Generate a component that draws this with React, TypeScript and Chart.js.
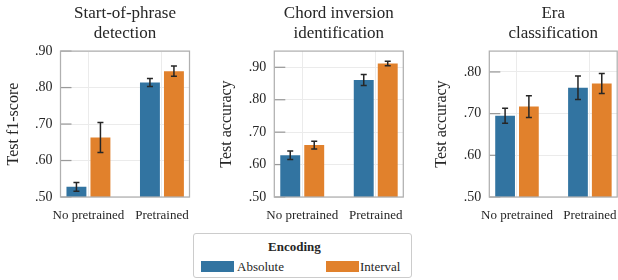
import React, { useEffect, useRef } from 'react';
import { Chart, registerables } from 'chart.js';

Chart.register(...registerables);

const FONT = "'Liberation Serif', 'Times New Roman', serif";
const TEXT = '#262626';

const groups = ['No pretrained', 'Pretrained'];
const encodings = ['Absolute', 'Interval'];
const encodingColors = ['#3274A1', '#E1812C'];

const phraseTitle = ['Start-of-phrase', 'detection'];
const phraseYLabel = 'Test f1-score';
const phraseAbsolute = [0.528, 0.814];
const phraseInterval = [0.663, 0.845];
const phraseAbsoluteErr = [0.012, 0.011];
const phraseIntervalErr = [0.041, 0.014];
const phraseTicks = [0.5, 0.6, 0.7, 0.8, 0.9];
const phraseRange = [0.5, 0.9];

const inversionTitle = ['Chord inversion', 'identification'];
const inversionYLabel = 'Test accuracy';
const inversionAbsolute = [0.629, 0.861];
const inversionInterval = [0.66, 0.912];
const inversionAbsoluteErr = [0.013, 0.017];
const inversionIntervalErr = [0.012, 0.007];
const inversionTicks = [0.5, 0.6, 0.7, 0.8, 0.9];
const inversionRange = [0.5, 0.95];

const eraTitle = ['Era', 'classification'];
const eraYLabel = 'Test accuracy';
const eraAbsolute = [0.695, 0.762];
const eraInterval = [0.717, 0.772];
const eraAbsoluteErr = [0.018, 0.028];
const eraIntervalErr = [0.026, 0.024];
const eraTicks = [0.5, 0.6, 0.7, 0.8];
const eraRange = [0.5, 0.85];

const xRange = [-0.38, 1.375];

type PanelProps = {
  title: string[];
  yLabel: string;
  absolute: number[];
  interval: number[];
  absoluteErr: number[];
  intervalErr: number[];
  ticks: number[];
  range: number[];
  left: number;
  width: number;
  yAxisWidth: number;
  yTitlePad: number;
  padRight: number;
};

function Panel(p: PanelProps) {
  const ref = useRef<HTMLCanvasElement>(null);
  useEffect(() => {
    const errs = [p.absoluteErr, p.intervalErr];
    const decor = {
      id: 'decor',
      beforeDatasetsDraw(chart: any) {
        const { ctx, chartArea: a, scales } = chart;
        const y = scales.y;
        ctx.save();
        ctx.strokeStyle = '#9a9a9a';
        ctx.lineWidth = 1.25;
        for (const t of y.ticks) {
          const py = y.getPixelForValue(t.value);
          ctx.beginPath();
          ctx.moveTo(a.left, py);
          ctx.lineTo(a.left + 11, py);
          ctx.stroke();
        }
        ctx.restore();
      },
      afterDatasetsDraw(chart: any) {
        const { ctx, chartArea: a, scales } = chart;
        ctx.save();
        ctx.strokeStyle = '#b0b0b0';
        ctx.lineWidth = 1.25;
        ctx.strokeRect(a.left, a.top, a.right - a.left, a.bottom - a.top);
        ctx.strokeStyle = '#262626';
        ctx.lineWidth = 1.5;
        chart.data.datasets.forEach((ds: any, i: number) => {
          const meta = chart.getDatasetMeta(i);
          meta.data.forEach((el: any, j: number) => {
            const v = ds.data[j].y;
            const e = errs[i][j];
            const x = el.x;
            const y1 = scales.y.getPixelForValue(v + e);
            const y2 = scales.y.getPixelForValue(v - e);
            ctx.beginPath();
            ctx.moveTo(x, y1);
            ctx.lineTo(x, y2);
            ctx.moveTo(x - 3, y1);
            ctx.lineTo(x + 3, y1);
            ctx.moveTo(x - 3, y2);
            ctx.lineTo(x + 3, y2);
            ctx.stroke();
          });
        });
        ctx.restore();
      },
    };
    const series = [p.absolute, p.interval];
    const chart = new Chart(ref.current as HTMLCanvasElement, {
      type: 'bar',
      data: {
        datasets: series.map((vals, i) => ({
          label: encodings[i],
          data: vals.map((y, k) => ({ x: k, y })),
          backgroundColor: encodingColors[i],
          borderWidth: 0,
          categoryPercentage: 0.653,
          barPercentage: 0.83,
        })),
      } as any,
      options: {
        animation: false,
        responsive: false,
        maintainAspectRatio: false,
        layout: { padding: { left: 0, right: p.padRight, top: 0, bottom: 3 } },
        plugins: {
          legend: { display: false },
          tooltip: { enabled: false },
          title: {
            display: true,
            text: p.title,
            fullSize: false,
            color: TEXT,
            font: { family: FONT, size: 17, weight: 'normal', lineHeight: 1.15 },
            padding: { top: 4, bottom: 8 },
          },
        },
        scales: {
          x: {
            type: 'linear',
            min: xRange[0],
            max: xRange[1],
            offset: false,
            bounds: 'data',
            afterBuildTicks: (s: any) => {
              s.ticks = groups.map((_, i) => ({ value: i }));
            },
            afterFit: (s: any) => {
              s.height = 30;
              s.paddingLeft = 0;
              s.paddingRight = 0;
            },
            ticks: {
              callback: (v: any) => groups[v],
              color: TEXT,
              font: { family: FONT, size: 13 },
              padding: 11,
              maxRotation: 0,
              autoSkip: false,
            },
            grid: { color: '#ebebeb', drawTicks: false, lineWidth: 1, offset: false },
            border: { display: false },
          },
          y: {
            type: 'linear',
            min: p.range[0],
            max: p.range[1],
            afterBuildTicks: (s: any) => {
              s.ticks = p.ticks.map((v) => ({ value: v }));
            },
            afterFit: (s: any) => {
              s.width = p.yAxisWidth;
              s.paddingTop = 0;
              s.paddingBottom = 0;
            },
            ticks: {
              callback: (v: any) => Number(v).toFixed(2).slice(1),
              color: TEXT,
              font: { family: FONT, size: 14 },
              padding: 8,
            },
            grid: { color: '#ebebeb', drawTicks: false, lineWidth: 1 },
            border: { display: false },
            title: {
              display: true,
              text: p.yLabel,
              color: TEXT,
              font: { family: FONT, size: 16 },
              padding: { top: p.yTitlePad, bottom: 0 },
            },
          },
        },
      } as any,
      plugins: [decor],
    });
    return () => chart.destroy();
  }, []);
  return (
    <canvas
      ref={ref}
      width={p.width}
      height={230}
      style={{ position: 'absolute', left: p.left, top: 0, width: p.width, height: 230 }}
    />
  );
}

function Legend() {
  const text: React.CSSProperties = {
    position: 'absolute',
    fontFamily: FONT,
    fontSize: 13,
    lineHeight: '15px',
    color: TEXT,
    whiteSpace: 'nowrap',
  };
  const swatchLeft = [7, 132];
  const labelLeft = [43, 166];
  return (
    <div
      style={{
        position: 'absolute',
        left: 193,
        top: 233,
        width: 219,
        height: 45,
        boxSizing: 'border-box',
        border: '1px solid #cccccc',
        borderRadius: 3,
        background: '#fff',
      }}
    >
      <span style={{ ...text, left: 74, top: 5, fontWeight: 'bold' }}>Encoding</span>
      {encodings.map((name, i) => (
        <React.Fragment key={name}>
          <div
            style={{
              position: 'absolute',
              left: swatchLeft[i],
              top: 27,
              width: 33,
              height: 11,
              background: encodingColors[i],
            }}
          />
          <span style={{ ...text, left: labelLeft[i], top: 25 }}>{name}</span>
        </React.Fragment>
      ))}
    </div>
  );
}

export default function App() {
  return (
    <div
      style={{
        position: 'fixed',
        left: 0,
        top: 0,
        width: 618,
        height: 280,
        background: '#ffffff',
        overflow: 'hidden',
      }}
    >
      <Panel
        title={phraseTitle}
        yLabel={phraseYLabel}
        absolute={phraseAbsolute}
        interval={phraseInterval}
        absoluteErr={phraseAbsoluteErr}
        intervalErr={phraseIntervalErr}
        ticks={phraseTicks}
        range={phraseRange}
        left={0}
        width={200}
        yAxisWidth={60.5}
        yTitlePad={4.4}
        padRight={10.5}
      />
      <Panel
        title={inversionTitle}
        yLabel={inversionYLabel}
        absolute={inversionAbsolute}
        interval={inversionInterval}
        absoluteErr={inversionAbsoluteErr}
        intervalErr={inversionIntervalErr}
        ticks={inversionTicks}
        range={inversionRange}
        left={200}
        width={215}
        yAxisWidth={74.3}
        yTitlePad={17}
        padRight={11.7}
      />
      <Panel
        title={eraTitle}
        yLabel={eraYLabel}
        absolute={eraAbsolute}
        interval={eraInterval}
        absoluteErr={eraAbsoluteErr}
        intervalErr={eraIntervalErr}
        ticks={eraTicks}
        range={eraRange}
        left={415}
        width={203}
        yAxisWidth={74.3}
        yTitlePad={17}
        padRight={0.8}
      />
      <Legend />
    </div>
  );
}
